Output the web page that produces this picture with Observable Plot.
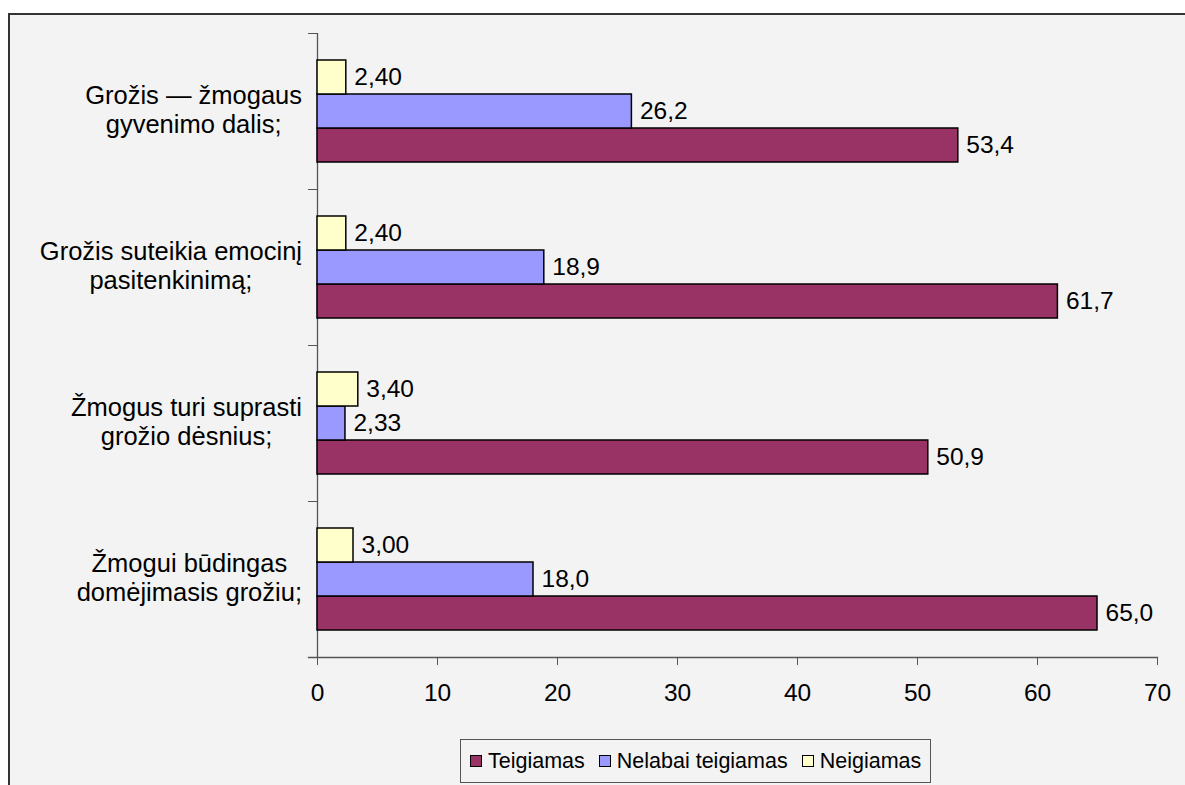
<!DOCTYPE html>
<html><head><meta charset="utf-8">
<script src="https://cdn.jsdelivr.net/npm/d3@7"></script>
<script src="https://cdn.jsdelivr.net/npm/@observablehq/plot@0.6"></script>
<style>
html,body{margin:0;padding:0;background:#fff;overflow:hidden;}
#frame{position:absolute;left:8px;top:13px;width:1400px;height:900px;background:#f3f3f3;border-left:2px solid #333;border-top:2px solid #333;font-family:"Liberation Sans",Arial,sans-serif;}
#chart{position:absolute;left:0;top:0;}
#legend{position:absolute;left:450px;top:724px;height:42px;border:1px solid #555;background:#f3f3f3;display:flex;align-items:center;padding:0 9px;font-size:21.5px;color:#000;white-space:nowrap;}
.item{display:flex;align-items:center;margin-right:14px}
.item:last-child{margin-right:0}
.sw{width:10px;height:10px;border:1px solid #000;margin-right:6px}
</style></head>
<body><div id="frame"><div id="chart"></div><div id="legend"></div></div>
<script>
const categories = ["Grožis — žmogaus gyvenimo dalis;", "Grožis suteikia emocinį pasitenkinimą;", "Žmogus turi suprasti grožio dėsnius;", "Žmogui būdingas domėjimasis grožiu;"];
const categoryLabels = ["Grožis — žmogaus\ngyvenimo dalis;", "Grožis suteikia emocinį\npasitenkinimą;", "Žmogus turi suprasti\ngrožio dėsnius;", "Žmogui būdingas\ndomėjimasis grožiu;"];
const series = ["Teigiamas", "Nelabai teigiamas", "Neigiamas"];
const colors = ["#993366", "#9999ff", "#ffffcc"];
const teigiamas = [53.4, 61.7, 50.9, 65.0];
const nelabaiTeigiamas = [26.2, 18.9, 2.33, 18.0];
const neigiamas = [2.40, 2.40, 3.40, 3.00];
const xTicks = [0, 10, 20, 30, 40, 50, 60, 70];

const values = [teigiamas, nelabaiTeigiamas, neigiamas];
const rows = [];
categories.forEach((c, i) => series.forEach((s, j) => rows.push({category: c, series: s, value: values[j][i]})));
const fmt = d3.formatLocale({decimal: ",", thousands: " ", grouping: [3], currency: ["", ""]}).format(".3r");

const W = 1170, H = 690, mT = 18, mB = 48, mL = 307;
const bandPx = (H - mT - mB) / categories.length;
const labelGap = 15; // gap between the wrapped category labels and the axis
const font = '"Liberation Sans", Arial, sans-serif';

const chart = Plot.plot({
  width: W, height: H,
  marginLeft: mL, marginRight: 23, marginTop: mT, marginBottom: mB,
  style: {background: "transparent", fontFamily: font, fontSize: "24px", color: "#000", overflow: "visible"},
  x: {domain: [0, 70], axis: null},
  y: {domain: [...series].reverse(), paddingInner: 0, paddingOuter: 0.77, axis: null},
  fy: {domain: categories, padding: 0, axis: null},
  color: {domain: series, range: colors},
  marks: [
    Plot.ruleX([0], {stroke: "#555", strokeWidth: 1.3}),
    Plot.barX(rows, {fy: "category", y: "series", x: "value", fill: "series", stroke: "#000", strokeWidth: 1.5}),
    Plot.text(rows, {fy: "category", y: "series", x: "value", text: d => fmt(d.value), textAnchor: "start", dx: 8, fontSize: 24.5, fill: "#000"}),
    Plot.axisFy({anchor: "left", tickSize: 9, tickFormat: () => "", dy: -bandPx / 2, stroke: "#555", label: null}),
    Plot.axisFy({anchor: "left", tickSize: 0, tickPadding: 135, textAnchor: "middle", tickFormat: c => categoryLabels[categories.indexOf(c)], lineHeight: 1.12, fontSize: 25.5, dy: -2, label: null, fill: "#000"}),
    Plot.frame({anchor: "bottom", facetAnchor: "bottom", insetLeft: -9, stroke: "#555", strokeWidth: 1.3}),
    Plot.axisX({ticks: xTicks, tickSize: 8, tickPadding: 18, fontSize: 24.5, stroke: "#555", label: null, fill: "#000"})
  ]
});
document.getElementById("chart").appendChild(chart);

// Excel-style wrapped labels: lines centred on each other, block right-aligned next to the axis
const svgLeft = chart.getBoundingClientRect().left;
const target = svgLeft + mL - labelGap;
chart.querySelectorAll("text").forEach(t => {
  if (t.querySelectorAll("tspan").length < 2) return;
  const r = t.getBoundingClientRect();
  if (!r.width) return;
  const shift = target - r.right;
  t.setAttribute("transform", `translate(${shift},0) ` + (t.getAttribute("transform") || ""));
});

const legend = d3.select("#legend");
series.forEach((s, i) => {
  const it = legend.append("div").attr("class", "item");
  it.append("div").attr("class", "sw").style("background", colors[i]);
  it.append("span").text(s);
});
</script></body></html>
